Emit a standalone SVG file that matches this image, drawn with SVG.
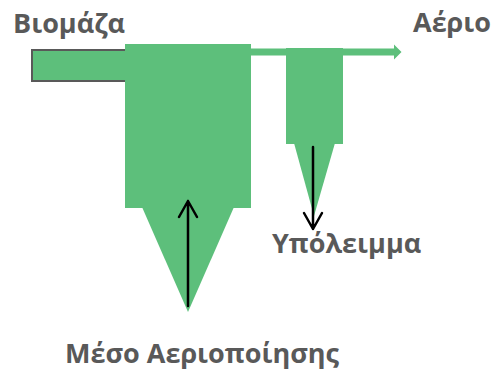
<svg xmlns="http://www.w3.org/2000/svg" width="492" height="374" viewBox="0 0 492 374">
<style>
.g{fill:#5dbf7b}
.lbl{font-family:"Open Sans","Liberation Sans",Arial,sans-serif;font-weight:bold;font-size:27px;fill:#595959}
.ar{fill:none;stroke:#000;stroke-width:2.5;stroke-linecap:round;stroke-linejoin:round}
</style>
<rect width="492" height="374" fill="#fff"/>
<g id="connectors">
<path class="g" d="M250 48.5H394V44.5L401.5 52L394 59.5V55.5H250Z"/>
</g>
<g id="biomass-feed">
<rect x="32" y="50" width="95" height="31" class="g" stroke="#595959" stroke-width="2"/>
</g>
<g id="gasifier">
<rect x="125" y="44" width="126" height="164" class="g"/>
<polygon class="g" points="142,207 234,207 188,312"/>
<path class="ar" d="M188 306V201M179 217L188 201L197 217"/>
</g>
<g id="cyclone">
<rect x="286" y="48" width="57" height="96" class="g"/>
<polygon class="g" points="294,143 335,143 314,216"/>
<path class="ar" d="M313 147V229M304 213L313 229L322 213"/>
</g>
<text class="lbl" x="13" y="33">Βιομάζα</text>
<text class="lbl" x="413" y="32">Αέριο</text>
<text class="lbl" x="272" y="253">Υπόλειμμα</text>
<text class="lbl" x="65" y="363">Μέσο Αεριοποίησης</text>
</svg>
